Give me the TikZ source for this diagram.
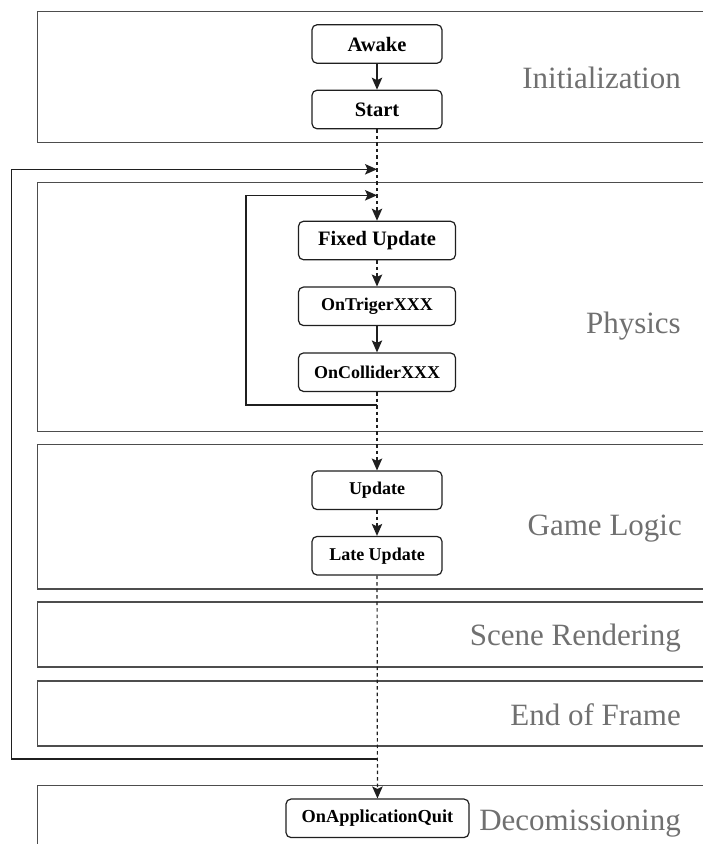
\documentclass[tikz,border=0pt]{standalone}
\usepackage{fontspec}
\setmainfont{Liberation Serif}
\usetikzlibrary{arrows.meta}
\definecolor{linegray}{HTML}{1F1F1F}
\definecolor{framegray}{HTML}{4D4D4D}
\definecolor{labelgray}{HTML}{707070}
\tikzset{
  stepbox/.style={draw=linegray, line width=1.2pt, rounded corners=5pt, fill=white,
    minimum width=130pt, minimum height=38.5pt, inner sep=0pt,
    font=\fontsize{18}{20}\selectfont\bfseries},
  bigtext/.style={font=\fontsize{20.5}{23}\selectfont\bfseries},
  stagelabel/.style={anchor=base east, inner sep=0pt, text=labelgray,
    font=\fontsize{31}{34}\selectfont},
  frame/.style={draw=framegray, line width=1.3pt},
  flow/.style={draw=linegray, line width=1.2pt, -{Stealth[length=12pt,width=10.5pt,inset=2.5pt]}},
  flowdash/.style={flow, dash pattern=on 3.5pt off 3pt},
  loopline/.style={draw=linegray, line width=1.2pt, -{Stealth[length=12pt,width=10.5pt,inset=2.5pt]}},
}
\begin{document}
\begin{tikzpicture}[x=1pt, y=-1pt]
\useasboundingbox (0,0) rectangle (703,844);

% stage frames (open on the right edge)
\draw[frame] (704,11.7) -- (37.5,11.7) -- (37.5,142.7) -- (704,142.7);
\draw[frame] (704,182.3) -- (37.5,182.3) -- (37.5,431.3) -- (704,431.3);
\draw[frame] (704,444.3) -- (37.5,444.3) -- (37.5,589) -- (704,589);
\draw[frame] (704,602) -- (37.5,602) -- (37.5,667) -- (704,667);
\draw[frame] (704,681) -- (37.5,681) -- (37.5,746) -- (704,746);
\draw[frame] (704,785.5) -- (37.5,785.5) -- (37.5,846);

% stage labels
\node[stagelabel] (lblinit) at (681,88.3) {Initialization};
\node[stagelabel] (lblphys) at (681,333) {Physics};
\node[stagelabel] (lblgame) at (682,535) {Game Logic};
\node[stagelabel] (lblscene) at (681,645) {Scene Rendering};
\node[stagelabel] (lblend) at (681,725) {End of Frame};
\node[stagelabel] (lbldecom) at (681,830) {Decomissioning};

% event nodes
\node[stepbox, bigtext] (awake) at (377,44) {Awake};
\node[stepbox, bigtext] (start) at (377,109.5) {Start};
\node[stepbox, bigtext, minimum width=157pt] (fixed) at (377,240.5) {Fixed Update};
\node[stepbox, minimum width=157pt] (trigger) at (377,306.3) {OnTrigerXXX};
\node[stepbox, minimum width=157pt] (collider) at (377,372.2) {OnColliderXXX};
\node[stepbox] (update) at (377,490.3) {Update};
\node[stepbox] (late) at (377,555.7) {Late Update};
\node[stepbox, minimum width=183pt, font=\fontsize{18.3}{20}\selectfont\bfseries] (quit) at (377.5,818.3) {OnApplicationQuit};

% join points of the loops on the main flow
\coordinate (outerin) at (377,169.3);
\coordinate (outerout) at (377,759);
\coordinate (innerin) at (377,195.3);
\coordinate (innerout) at (377,405);

% main flow
\draw[flow] (awake) -- (start);
\draw[flowdash] (start) -- (fixed);
\draw[flowdash] (fixed) -- (trigger);
\draw[flow] (trigger) -- (collider);
\draw[flowdash] (collider) -- (update);
\draw[flowdash] (update) -- (late);
\draw[flowdash] (late) -- (quit);

% frame loop and physics loop
\draw[loopline] (outerout) -- (11.7,759) -- (11.7,169.3) -- (outerin);
\draw[loopline] (innerout) -- (246,405) -- (246,195.3) -- (innerin);
\end{tikzpicture}
\end{document}
